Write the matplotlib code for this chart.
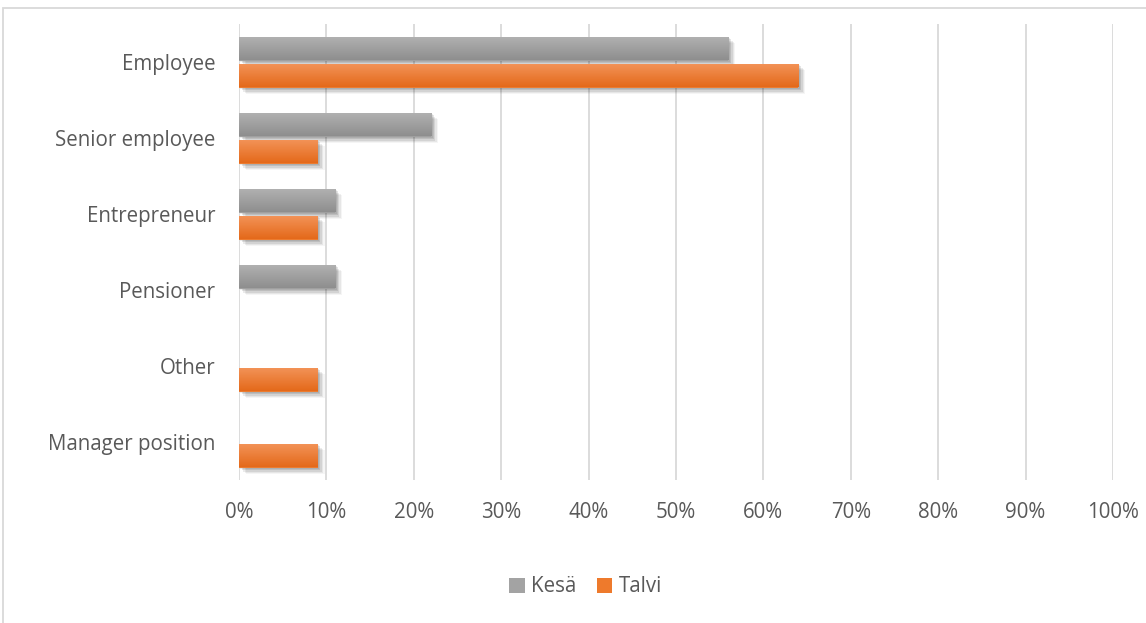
import numpy as np
import matplotlib.pyplot as plt
import matplotlib.patheffects as pe
from matplotlib.colors import LinearSegmentedColormap
from matplotlib.patches import Rectangle
from matplotlib.ticker import PercentFormatter

categories = ["Employee", "Senior employee", "Entrepreneur", "Pensioner", "Other", "Manager position"]
kesa = [56, 22, 11, 11, 0, 0]
talvi = [64, 9, 9, 0, 9, 9]
series_names = ["Kesä", "Talvi"]

plt.rcParams['font.family'] = ['Open Sans', 'DejaVu Sans']
text_col = '#595959'
fs = 14.8

fig = plt.figure(figsize=(11.46, 6.23), dpi=100)
ax = fig.add_axes([239 / 1146, 1 - 480 / 623, (1113 - 239) / 1146, 456 / 623])

y = np.arange(len(categories))
h = 24 / 76
off = (h + 3 / 76) / 2

gray_cmap = LinearSegmentedColormap.from_list('g', ['#b2b2b2', '#8e8e8e'])
orange_cmap = LinearSegmentedColormap.from_list('o', ['#f39459', '#e4691a'])

# soft drop shadow built from a few faint offset copies
shadow = [pe.SimplePatchShadow(offset=(d, -d), shadow_rgbFace='#000000', alpha=a)
          for d, a in ((5, 0.04), (4, 0.06), (3, 0.08), (2, 0.10), (1, 0.08))] + [pe.Normal()]

b1 = ax.barh(y - off, kesa, height=h, color='#a0a0a0', label=series_names[0], zorder=3)
b2 = ax.barh(y + off, talvi, height=h, color='#ec7c30', label=series_names[1], zorder=3)

# gradient fill on each bar (light at top, dark at bottom)
grad = np.linspace(0, 1, 128).reshape(-1, 1)
for bars, cmap in ((b1, gray_cmap), (b2, orange_cmap)):
    for bar in bars:
        w = bar.get_width()
        if w <= 0:
            bar.set_visible(False)
            continue
        bar.set_path_effects(shadow)
        x0, y0 = bar.get_x(), bar.get_y()
        hh = bar.get_height()
        im = ax.imshow(grad, cmap=cmap, aspect='auto', extent=(x0, x0 + w, y0 + hh, y0),
                       origin='upper', zorder=4, interpolation='bilinear')
        im.set_clip_path(bar)

ax.set_xlim(0, 100)
ax.set_ylim(len(categories) - 0.5, -0.5)
ax.set_xticks(np.arange(0, 101, 10))
ax.xaxis.set_major_formatter(PercentFormatter(decimals=0))
ax.set_yticks(y)
ax.set_yticklabels(categories)
ax.tick_params(axis='both', length=0, labelsize=fs, colors=text_col)
ax.tick_params(axis='x', pad=16)
ax.tick_params(axis='y', pad=17)
ax.grid(axis='x', color='#d9d9d9', linewidth=1.3, zorder=0)
ax.set_axisbelow(True)
for s in ax.spines.values():
    s.set_visible(False)

leg = fig.legend(handles=[b1, b2], labels=series_names, loc='center', bbox_to_anchor=(0.511, 1 - 587 / 623),
                 ncol=2, frameon=False, fontsize=fs, handlelength=0.75, handleheight=0.75,
                 handletextpad=0.3, columnspacing=1.0, labelcolor=text_col)
for hnd, c in zip(leg.legend_handles, ('#a3a3a3', '#ee7a2c')):
    hnd.set_facecolor(c)
    hnd.set_path_effects([])

# outer chart frame
fig.patches.append(Rectangle((3 / 1146, -0.1), 1.2, 1 - 8 / 623 + 0.1, transform=fig.transFigure,
                             fill=False, edgecolor='#d9d9d9', linewidth=1.3))

fig.savefig('out.png', dpi=100)
